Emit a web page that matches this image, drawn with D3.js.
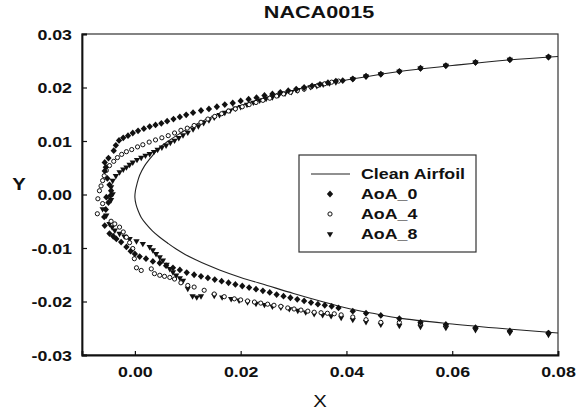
<!DOCTYPE html>
<html>
<head>
<meta charset="utf-8">
<script src="https://cdn.jsdelivr.net/npm/d3@7"></script>
<style>
  body { margin: 0; background: #fff; }
  text { font-family: "Liberation Sans", Arial, sans-serif; fill: #111; }
</style>
</head>
<body>
<svg id="chart" width="588" height="413"></svg>
<script>
// values
const xTicks = [0, 0.02, 0.04, 0.06, 0.08];
const yTicks = [-0.03, -0.02, -0.01, 0, 0.01, 0.02, 0.03];

const cleanUpper = [
  [0.0800, 0.0258], [0.0700, 0.0251], [0.0600, 0.0241], [0.0500, 0.0230], [0.0400, 0.0214],
  [0.0350, 0.0206], [0.0300, 0.0195], [0.0250, 0.0182], [0.0200, 0.0166], [0.0150, 0.0147],
  [0.0120, 0.0133], [0.0100, 0.0123], [0.0080, 0.0111], [0.0062, 0.0099], [0.0047, 0.0088],
  [0.0031, 0.0070], [0.0018, 0.0053], [0.0009, 0.0036], [0.0004, 0.0020], [0.0001, 0.0007],
  [0.0000, -0.0005]
];
const cleanLower = [
  [0.0002, -0.0018], [0.0006, -0.0030], [0.0012, -0.0043], [0.0021, -0.0055], [0.0033, -0.0068],
  [0.0047, -0.0080], [0.0062, -0.0091], [0.0078, -0.0102], [0.0095, -0.0112], [0.0115, -0.0122],
  [0.0135, -0.0131], [0.0160, -0.0141], [0.0200, -0.0155], [0.0250, -0.0170], [0.0300, -0.0185],
  [0.0350, -0.0199], [0.0400, -0.0212], [0.0450, -0.0222], [0.0500, -0.0231], [0.0600, -0.0242],
  [0.0700, -0.0251], [0.0800, -0.0259]
];

const aoa0 = [
  [0.0782, 0.0257], [0.0709, 0.0252], [0.0644, 0.0247], [0.0588, 0.0241], [0.0540, 0.0236],
  [0.0500, 0.0230], [0.0465, 0.0225], [0.0437, 0.0221], [0.0412, 0.0216], [0.0393, 0.0213],
  [0.0380, 0.0212], [0.0365, 0.0209], [0.0350, 0.0206], [0.0335, 0.0203], [0.0320, 0.0200],
  [0.0305, 0.0197], [0.0290, 0.0194], [0.0275, 0.0191], [0.0260, 0.0188], [0.0245, 0.0185],
  [0.0230, 0.0181], [0.0215, 0.0178], [0.0200, 0.0175], [0.0185, 0.0171], [0.0170, 0.0168],
  [0.0155, 0.0164], [0.0140, 0.0160], [0.0125, 0.0157], [0.0110, 0.0153], [0.0097, 0.0149],
  [0.0085, 0.0145], [0.0073, 0.0141], [0.0061, 0.0137], [0.0050, 0.0133], [0.0039, 0.0130],
  [0.0028, 0.0127], [0.0017, 0.0123], [0.0006, 0.0119], [-0.0004, 0.0115], [-0.0013, 0.0110],
  [-0.0022, 0.0106], [-0.0030, 0.0101], [-0.0036, 0.0092], [-0.0040, 0.0082], [-0.0050, 0.0068],
  [-0.0057, 0.0060], [-0.0055, 0.0051], [-0.0057, 0.0044], [-0.0052, 0.0030], [-0.0048, 0.0018],
  [-0.0045, 0.0007], [-0.0046, -0.0002], [-0.0054, -0.0005], [-0.0050, -0.0015], [-0.0055, -0.0028],
  [-0.0058, -0.0042], [-0.0057, -0.0058], [-0.0048, -0.0073], [-0.0041, -0.0078], [-0.0035, -0.0083],
  [-0.0026, -0.0089], [-0.0016, -0.0098], [-0.0008, -0.0106], [0.0000, -0.0111], [0.0009, -0.0116],
  [0.0021, -0.0120], [0.0034, -0.0125], [0.0047, -0.0128], [0.0059, -0.0133], [0.0072, -0.0137],
  [0.0085, -0.0141], [0.0098, -0.0146], [0.0112, -0.0150], [0.0125, -0.0153], [0.0138, -0.0156],
  [0.0151, -0.0159], [0.0164, -0.0162], [0.0177, -0.0165], [0.0190, -0.0168], [0.0203, -0.0171],
  [0.0216, -0.0174], [0.0229, -0.0177], [0.0242, -0.0180], [0.0255, -0.0183], [0.0268, -0.0187],
  [0.0281, -0.0190], [0.0294, -0.0193], [0.0307, -0.0196], [0.0320, -0.0199], [0.0333, -0.0202],
  [0.0346, -0.0205], [0.0359, -0.0207], [0.0372, -0.0209], [0.0385, -0.0212], [0.0412, -0.0218],
  [0.0437, -0.0222], [0.0465, -0.0226], [0.0500, -0.0232], [0.0540, -0.0239], [0.0588, -0.0243],
  [0.0644, -0.0249], [0.0709, -0.0255], [0.0782, -0.0259]
];

const aoa4 = [
  [0.0782, 0.0257], [0.0709, 0.0252], [0.0644, 0.0247], [0.0588, 0.0241], [0.0540, 0.0236],
  [0.0500, 0.0230], [0.0465, 0.0225], [0.0437, 0.0221], [0.0412, 0.0216],
  [0.0385, 0.0212], [0.0372, 0.0210], [0.0359, 0.0207], [0.0346, 0.0204], [0.0333, 0.0201],
  [0.0320, 0.0197], [0.0307, 0.0194], [0.0294, 0.0191], [0.0281, 0.0188], [0.0268, 0.0184],
  [0.0255, 0.0180], [0.0242, 0.0176], [0.0229, 0.0172], [0.0216, 0.0168], [0.0203, 0.0164],
  [0.0190, 0.0160], [0.0177, 0.0156], [0.0164, 0.0151], [0.0151, 0.0146], [0.0138, 0.0141],
  [0.0125, 0.0135], [0.0112, 0.0129], [0.0099, 0.0124], [0.0087, 0.0120], [0.0075, 0.0115],
  [0.0063, 0.0110], [0.0051, 0.0106], [0.0039, 0.0102], [0.0027, 0.0098], [0.0015, 0.0093],
  [0.0005, 0.0089], [-0.0006, 0.0084], [-0.0016, 0.0080], [-0.0025, 0.0075], [-0.0033, 0.0069],
  [-0.0040, 0.0062], [-0.0048, 0.0054], [-0.0054, 0.0045], [-0.0058, 0.0035], [-0.0061, 0.0026],
  [-0.0064, 0.0016], [-0.0067, 0.0007], [-0.0070, -0.0008], [-0.0061, -0.0017], [-0.0071, -0.0036],
  [-0.0045, -0.0050], [-0.0038, -0.0055], [-0.0029, -0.0061], [-0.0022, -0.0070], [-0.0016, -0.0080],
  [-0.0010, -0.0090], [-0.0004, -0.0101], [-0.0001, -0.0120], [0.0003, -0.0137], [0.0012, -0.0142],
  [0.0031, -0.0139], [0.0037, -0.0148], [0.0047, -0.0151], [0.0056, -0.0153], [0.0066, -0.0155],
  [0.0075, -0.0158], [0.0087, -0.0165], [0.0100, -0.0170], [0.0112, -0.0173], [0.0131, -0.0179],
  [0.0150, -0.0186], [0.0169, -0.0191], [0.0188, -0.0195], [0.0200, -0.0197], [0.0213, -0.0199],
  [0.0226, -0.0201], [0.0238, -0.0203], [0.0251, -0.0205], [0.0263, -0.0207], [0.0276, -0.0209],
  [0.0289, -0.0212], [0.0301, -0.0214], [0.0314, -0.0216], [0.0327, -0.0218], [0.0339, -0.0220],
  [0.0352, -0.0221], [0.0364, -0.0222], [0.0377, -0.0223], [0.0390, -0.0225], [0.0412, -0.0229],
  [0.0437, -0.0234], [0.0465, -0.0239], [0.0500, -0.0239], [0.0540, -0.0242], [0.0588, -0.0245],
  [0.0644, -0.0250], [0.0709, -0.0256], [0.0782, -0.0259]
];

const aoa8 = [
  [0.0782, 0.0257], [0.0709, 0.0252], [0.0644, 0.0247], [0.0588, 0.0241], [0.0540, 0.0236],
  [0.0500, 0.0230], [0.0465, 0.0225], [0.0437, 0.0221], [0.0412, 0.0216],
  [0.0380, 0.0210], [0.0368, 0.0208], [0.0356, 0.0206], [0.0344, 0.0203], [0.0332, 0.0201],
  [0.0320, 0.0198], [0.0308, 0.0195], [0.0296, 0.0192], [0.0284, 0.0189], [0.0272, 0.0186],
  [0.0260, 0.0182], [0.0248, 0.0179], [0.0236, 0.0176], [0.0224, 0.0172], [0.0212, 0.0168],
  [0.0200, 0.0164], [0.0190, 0.0161], [0.0180, 0.0157], [0.0170, 0.0153], [0.0160, 0.0149],
  [0.0150, 0.0144], [0.0140, 0.0139], [0.0130, 0.0134], [0.0120, 0.0128], [0.0110, 0.0122],
  [0.0100, 0.0116], [0.0091, 0.0111], [0.0083, 0.0106], [0.0075, 0.0101], [0.0067, 0.0097],
  [0.0059, 0.0092], [0.0051, 0.0088], [0.0043, 0.0084], [0.0036, 0.0080], [0.0028, 0.0076],
  [0.0020, 0.0073], [0.0012, 0.0069], [0.0004, 0.0065], [-0.0004, 0.0060], [-0.0010, 0.0056],
  [-0.0016, 0.0051], [-0.0022, 0.0047], [-0.0029, 0.0042], [-0.0036, 0.0035], [-0.0042, 0.0026],
  [-0.0045, 0.0014], [-0.0042, 0.0001], [-0.0045, -0.0010], [-0.0061, -0.0027], [-0.0054, -0.0039],
  [-0.0048, -0.0055], [-0.0043, -0.0061], [-0.0038, -0.0067], [-0.0029, -0.0073], [-0.0020, -0.0078],
  [-0.0010, -0.0083], [0.0003, -0.0087], [0.0015, -0.0092], [0.0028, -0.0098], [0.0034, -0.0104],
  [0.0040, -0.0111], [0.0047, -0.0117], [0.0053, -0.0123], [0.0060, -0.0131], [0.0066, -0.0139],
  [0.0072, -0.0145], [0.0078, -0.0151], [0.0085, -0.0156], [0.0091, -0.0161], [0.0100, -0.0176],
  [0.0109, -0.0190], [0.0117, -0.0192], [0.0125, -0.0190], [0.0150, -0.0189], [0.0165, -0.0192],
  [0.0182, -0.0195], [0.0197, -0.0198], [0.0213, -0.0201], [0.0229, -0.0204], [0.0245, -0.0206],
  [0.0260, -0.0209], [0.0276, -0.0211], [0.0292, -0.0214], [0.0308, -0.0217], [0.0323, -0.0220],
  [0.0339, -0.0223], [0.0355, -0.0225], [0.0371, -0.0227], [0.0390, -0.0230], [0.0412, -0.0234],
  [0.0437, -0.0238], [0.0465, -0.0243], [0.0500, -0.0245], [0.0540, -0.0247], [0.0588, -0.0249],
  [0.0644, -0.0253], [0.0709, -0.0258], [0.0782, -0.0262]
];

const legendLabels = ['Clean Airfoil', 'AoA_0', 'AoA_4', 'AoA_8'];

// the reference text is horizontally stretched
const SX = 1.27;
const margin = { top: 34, right: 30, bottom: 58, left: 82 };
const width = 588, height = 413;

const svg = d3.select('#chart');
const x = d3.scaleLinear().domain([-0.01, 0.08]).range([margin.left, width - margin.right]);
const y = d3.scaleLinear().domain([-0.03, 0.03]).range([height - margin.bottom, margin.top]);

// plain hyphen for negatives, like the original
const fmt = d => d3.format('.2f')(d).replace('\u2212', '-');

// marker shapes: flattened diamond, open circle, down triangle
const diamond = d3.symbol().type(d3.symbolDiamond).size(22);
const triangle = d3.symbol().type(d3.symbolTriangle).size(17);
const diamondAt = (px, py) => `translate(${px},${py}) scale(1.25,0.78)`;

function stretchedText(g, tx, ty, str, size, weight, anchor) {
  return g.append('text')
    .attr('transform', `translate(${tx},${ty}) scale(${SX},1)`)
    .attr('text-anchor', anchor || 'middle')
    .attr('font-size', size)
    .attr('font-weight', weight || 'bold')
    .text(str);
}

// frame
svg.append('rect')
  .attr('x', x.range()[0]).attr('y', y.range()[1])
  .attr('width', x.range()[1] - x.range()[0])
  .attr('height', y.range()[0] - y.range()[1])
  .attr('fill', 'none').attr('stroke', '#333').attr('stroke-width', 1.2);

// axes, ticks pointing inwards
const xAxis = svg.append('g')
  .attr('transform', `translate(0,${y.range()[0]})`)
  .call(d3.axisBottom(x).tickValues(xTicks).tickSize(-4).tickPadding(0).tickFormat(fmt));
xAxis.selectAll('text')
  .attr('y', 22).attr('dy', 0)
  .attr('transform', `scale(${SX},1)`)
  .attr('font-size', 14).attr('font-weight', 'bold')
  .style('font-family', '"Liberation Sans", Arial, sans-serif');

const yAxis = svg.append('g')
  .attr('transform', `translate(${x.range()[0]},0)`)
  .call(d3.axisLeft(y).tickValues(yTicks).tickSize(-5).tickFormat(fmt));
yAxis.selectAll('text')
  .attr('x', -10 / SX).attr('dy', '0.36em')
  .attr('transform', `scale(${SX},1)`)
  .attr('font-size', 14).attr('font-weight', 'bold')
  .style('font-family', '"Liberation Sans", Arial, sans-serif');

svg.selectAll('.domain').attr('stroke', '#111').attr('stroke-width', 1.8);
svg.selectAll('.tick line').attr('stroke', '#111').attr('stroke-width', 1.2);

// clean airfoil outline
const outline = cleanUpper.concat(cleanLower);
svg.append('path')
  .datum(outline)
  .attr('fill', 'none')
  .attr('stroke', '#222')
  .attr('stroke-width', 1.1)
  .attr('d', d3.line().x(d => x(d[0])).y(d => y(d[1])).curve(d3.curveCatmullRom));

// data markers
svg.append('g').selectAll('path')
  .data(aoa8).join('path')
  .attr('transform', d => `translate(${x(d[0])},${y(d[1])}) rotate(180)`)
  .attr('d', triangle).attr('fill', '#111');

svg.append('g').selectAll('circle')
  .data(aoa4).join('circle')
  .attr('cx', d => x(d[0])).attr('cy', d => y(d[1])).attr('r', 2.1)
  .attr('fill', '#fff').attr('stroke', '#111').attr('stroke-width', 1);

svg.append('g').selectAll('path')
  .data(aoa0).join('path')
  .attr('transform', d => diamondAt(x(d[0]), y(d[1])))
  .attr('d', diamond).attr('fill', '#111');

// legend
const legend = svg.append('g').attr('transform', 'translate(299,155)');
legend.append('rect')
  .attr('width', 177).attr('height', 97)
  .attr('fill', '#fff').attr('stroke', '#333').attr('stroke-width', 1.2);
legendLabels.forEach((label, i) => {
  const cy = 19 + i * 20;
  if (i === 0) {
    legend.append('line').attr('x1', 12).attr('x2', 51).attr('y1', cy).attr('y2', cy)
      .attr('stroke', '#222').attr('stroke-width', 1.1);
  } else if (i === 1) {
    legend.append('path').attr('transform', diamondAt(31, cy)).attr('d', diamond).attr('fill', '#111');
  } else if (i === 2) {
    legend.append('circle').attr('cx', 31).attr('cy', cy).attr('r', 2.1)
      .attr('fill', '#fff').attr('stroke', '#111');
  } else {
    legend.append('path').attr('transform', `translate(31,${cy}) rotate(180)`).attr('d', triangle).attr('fill', '#111');
  }
  stretchedText(legend, 62, cy + 5, label, 14, 'bold', 'start');
});

// titles
stretchedText(svg, 319, 18, 'NACA0015', 17, 'bold');
stretchedText(svg, 320, 407, 'X', 16, 'normal');
stretchedText(svg, 19, 190, 'Y', 16, 'bold');
</script>
</body>
</html>
